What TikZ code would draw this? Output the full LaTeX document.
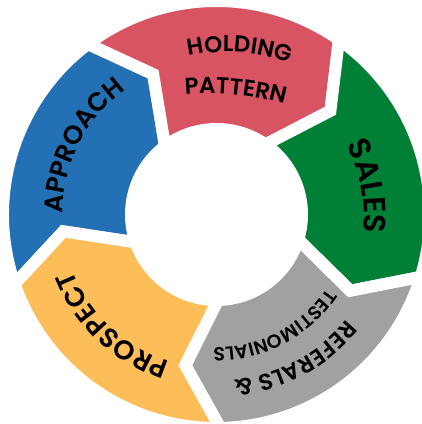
\documentclass[tikz,border=0pt]{standalone}
\usepackage{fontspec}
\setmainfont{Poppins}[BoldFont={Poppins SemiBold}]
\usetikzlibrary{decorations.text}
\definecolor{segred}{HTML}{D95462}
\definecolor{seggreen}{HTML}{008037}
\definecolor{segblue}{HTML}{2470B5}
\definecolor{seggray}{HTML}{A1A1A1}
\definecolor{segyellow}{HTML}{FDBD59}
% #1 cx, #2 cy, #3 baseline radius, #4 middle angle, #5 font size, #6 text
\newcommand{\arclabel}[6]{%
  \path[decorate, decoration={text along path, text align=center,
      text={|\fontsize{#5}{#5}\selectfont\bfseries|#6}}]
    ({#1+#3*cos(#4+50)},{#2+#3*sin(#4+50)})
    arc[start angle={#4+50}, end angle={#4-50}, radius=#3];%
}
\begin{document}
\begin{tikzpicture}[x=1pt,y=1pt,
  seg/.style={draw=white, line width=12pt, line join=miter}]
\useasboundingbox (0,0) rectangle (422,424);
\clip (0,0) rectangle (422,424);
\begin{scope}[shift={(216.5,209.5)}]
  % approach (blue)
  \path[seg, fill=segblue] (199:213.5) arc[start angle=199, end angle=127, radius=213.5]
    -- (114.3:154) -- (127:85.5) arc[start angle=127, end angle=199, radius=85.5]
    -- (186.3:154) -- cycle;
  % holding pattern (red)
  \path[seg, fill=segred] (127:213.5) arc[start angle=127, end angle=55, radius=213.5]
    -- (42.3:154) -- (55:85.5) arc[start angle=55, end angle=127, radius=85.5]
    -- (114.3:154) -- cycle;
  % sales (green)
  \path[seg, fill=seggreen] (55:213.5) arc[start angle=55, end angle=-17, radius=213.5]
    -- (-29.7:154) -- (-17:85.5) arc[start angle=-17, end angle=55, radius=85.5]
    -- (42.3:154) -- cycle;
  % referrals (gray)
  \path[seg, fill=seggray] (-17:213.5) arc[start angle=-17, end angle=-89, radius=213.5]
    -- (-101.7:154) -- (-89:85.5) arc[start angle=-89, end angle=-17, radius=85.5]
    -- (-29.7:154) -- cycle;
  % prospect (yellow)
  \path[seg, fill=segyellow] (271:213.5) arc[start angle=271, end angle=199, radius=213.5]
    -- (186.3:154) -- (199:85.5) arc[start angle=199, end angle=271, radius=85.5]
    -- (258.3:154) -- cycle;
\end{scope}
\arclabel{227}{193}{179}{86}{23}{HOLDING}
\arclabel{208}{38.5}{292}{84.6}{23}{PATTERN}
\arclabel{216.5}{209.5}{147.5}{10.5}{31}{SALES}
\arclabel{216.5}{209.5}{154}{152.7}{26}{APPROACH}
\arclabel{216.5}{209.5}{154.5}{-133.4}{27}{PROSPECT}
\arclabel{216.5}{209.5}{167}{-61.5}{23}{REFERALS {\&}}
\arclabel{216.5}{209.5}{133}{-62.5}{19}{TESTIMONIALS}
\end{tikzpicture}
\end{document}
